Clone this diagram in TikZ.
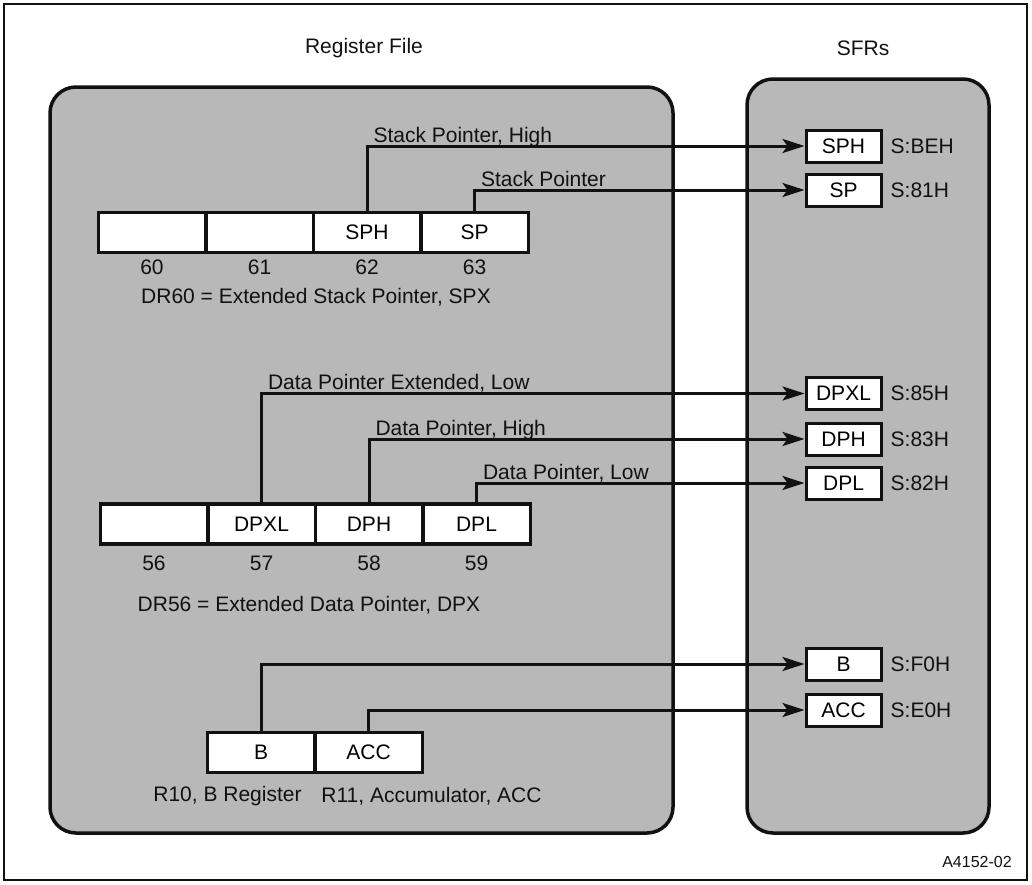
\documentclass[tikz,border=0pt]{standalone}
\usepackage{fontspec}
\setmainfont{Liberation Sans}
\usepackage{tikz}
\usetikzlibrary{arrows.meta, positioning}
\definecolor{ink}{HTML}{111111}
\definecolor{panel}{HTML}{B8B8B8}

\tikzset{
  regcell/.style={draw=ink, fill=white, line width=3.5pt, minimum width=107.5pt, minimum height=40pt, inner sep=0pt, font=\fontsize{21}{25}\selectfont},
  sfrbox/.style={draw=ink, fill=white, line width=3pt, minimum width=75pt, minimum height=32pt, inner sep=0pt, font=\fontsize{21}{25}\selectfont},
  txt/.style={text=ink, inner sep=0pt, font=\fontsize{21}{25}\selectfont},
  tap/.style={txt, anchor=base west, xshift=5pt, yshift=4pt},
  link/.style={draw=ink, line width=3pt, -{Stealth[length=22pt, width=14pt, inset=5pt]}},
  pane/.style={draw=ink, fill=panel, line width=3.5pt, rounded corners=26pt},
}

\begin{document}
\begin{tikzpicture}[x=1pt, y=-1pt]
\useasboundingbox (0,0) rectangle (1032,884);
\draw[ink, line width=1.5pt] (4,4) rectangle (1027,880);

% the two panels
\draw[pane] (50,87) rectangle (673,833);
\draw[pane] (747,79) rectangle (989,833);
\node[txt] (regtitle) at (364,48) {Register File};
\node[txt] (sfrtitle) at (863,48) {SFRs};

% stack pointer, DR60
\node[regcell] (r60) at (152,232.5) {};
\node[regcell] (r61) at (259.5,232.5) {};
\node[regcell] (r62) at (367,232.5) {SPH};
\node[regcell] (r63) at (474.5,232.5) {SP};
\node[txt, below=5pt of r60] (n60) {60};
\node[txt, below=5pt of r61] (n61) {61};
\node[txt, below=5pt of r62] (n62) {62};
\node[txt, below=5pt of r63] (n63) {63};
\node[txt] (dr60) at (316,297) {DR60 = Extended Stack Pointer, SPX};

% data pointer, DR56
\node[regcell] (r56) at (154,524) {};
\node[regcell] (r57) at (261.5,524) {DPXL};
\node[regcell] (r58) at (369,524) {DPH};
\node[regcell] (r59) at (476.5,524) {DPL};
\node[txt, below=10pt of r56] (n56) {56};
\node[txt, below=10pt of r57] (n57) {57};
\node[txt, below=10pt of r58] (n58) {58};
\node[txt, below=10pt of r59] (n59) {59};
\node[txt] (dr56) at (309,605) {DR56 = Extended Data Pointer, DPX};

% B and accumulator
\node[regcell] (r10) at (261,752.5) {B};
\node[regcell] (r11) at (368.5,752.5) {ACC};
\node[txt] (lr10) at (227.5,796) {R10, B Register};
\node[txt] (lr11) at (431.5,796) {R11, Accumulator, ACC};

% SFR side
\node[sfrbox] (ssph) at (843.5,146) {SPH};
\node[sfrbox] (ssp) at (843.5,190) {SP};
\node[sfrbox] (sdpxl) at (843.5,393.5) {DPXL};
\node[sfrbox] (sdph) at (843.5,439) {DPH};
\node[sfrbox] (sdpl) at (843.5,483) {DPL};
\node[sfrbox] (sb) at (843.5,664) {B};
\node[sfrbox] (sacc) at (843.5,710) {ACC};
\node[txt, right=8pt of ssph] (assph) {S:BEH};
\node[txt, right=8pt of ssp] (assp) {S:81H};
\node[txt, right=8pt of sdpxl] (asdpxl) {S:85H};
\node[txt, right=8pt of sdph] (asdph) {S:83H};
\node[txt, right=8pt of sdpl] (asdpl) {S:82H};
\node[txt, right=8pt of sb] (asb) {S:F0H};
\node[txt, right=8pt of sacc] (asacc) {S:E0H};

% connectors
\draw[link] (r62.north) |- (ssph.west) node[pos=0.5, tap] {Stack Pointer, High};
\draw[link] (r63.north) |- (ssp.west) node[pos=0.5, tap] {Stack Pointer};
\draw[link] (r57.north) |- (sdpxl.west) node[pos=0.5, tap] {Data Pointer Extended, Low};
\draw[link] (r58.north) |- (sdph.west) node[pos=0.5, tap] {Data Pointer, High};
\draw[link] (r59.north) |- (sdpl.west) node[pos=0.5, tap] {Data Pointer, Low};
\draw[link] (r10.north) |- (sb.west);
\draw[link] (r11.north) |- (sacc.west);

\node[txt, font=\fontsize{16}{19}\selectfont] (figid) at (977,862) {A4152-02};
\end{tikzpicture}
\end{document}
